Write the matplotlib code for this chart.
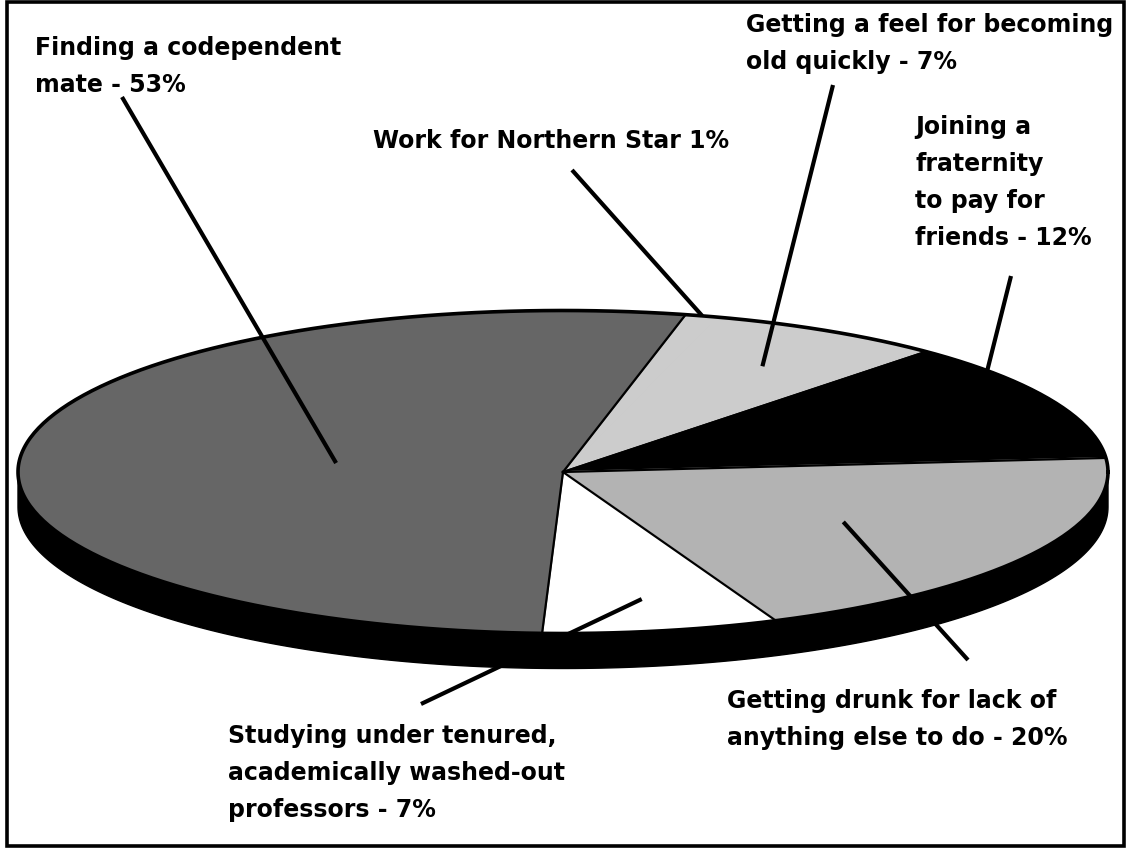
import matplotlib.pyplot as plt
import numpy as np

# slice data, listed clockwise starting at the top of the pie
labels = [
    "Work for Northern Star 1%",
    "Getting a feel for becoming\nold quickly - 7%",
    "Joining a\nfraternity\nto pay for\nfriends - 12%",
    "Getting drunk for lack of\nanything else to do - 20%",
    "Studying under tenured,\nacademically washed-out\nprofessors - 7%",
    "Finding a codependent\nmate - 53%",
]
shares = [1, 7, 12, 20, 7, 53]
colors = ['#cccccc', '#cccccc', '#000000', '#b3b3b3', '#ffffff', '#666666']

# layout (pixel coordinates of the 1129x849 canvas)
cx, cy, rx, ry, depth = 563, 472, 545, 161.5, 35
start_angle = 77
label_pos = [(373, 148), (746, 32), (915, 134), (727, 708), (228, 743), (35, 55)]
line_gap = 37
leader_out = [(572, 170), (833, 85), (1011, 276), (968, 660), (421, 704), (122, 97)]
leader_r = [1.0, 0.75, 0.85, 0.6, 0.8, 0.42]


def ell(t, r=1.0, dy=0.0):
    return cx + r * rx * np.cos(t), cy + dy - r * ry * np.sin(t)


fig = plt.figure(figsize=(11.29, 8.49), dpi=100)
ax = fig.add_axes([0, 0, 1, 1])
ax.set_xlim(0, 1129)
ax.set_ylim(849, 0)
ax.axis('off')

# black border around the whole picture
ax.add_patch(plt.Rectangle((7, 2), 1117, 844, fill=False, lw=2.6, ec='black'))

# extruded side of the pie
t_top = np.linspace(0, np.pi, 200)
t_bot = np.linspace(np.pi, 2 * np.pi, 200)
xs = np.concatenate([ell(t_top)[0], ell(t_bot, dy=depth)[0]])
ys = np.concatenate([ell(t_top)[1], ell(t_bot, dy=depth)[1]])
ax.fill(xs, ys, color='black', zorder=1)

# top face wedges
bounds = start_angle - 3.6 * np.concatenate([[0], np.cumsum(shares)])
for i, share in enumerate(shares):
    t = np.radians(np.linspace(bounds[i], bounds[i + 1], 120))
    px, py = ell(t)
    ax.fill(np.r_[cx, px], np.r_[cy, py], fc=colors[i], ec=colors[i], lw=1.4, zorder=2)

# separators where the colour changes
for i in range(len(shares)):
    if colors[i] != colors[i - 1]:
        ex, ey = ell(np.radians(bounds[i]))
        ax.plot([cx, ex], [cy, ey], color='black', lw=1.6, zorder=3)

# rim outline
tt = np.linspace(0, 2 * np.pi, 400)
ax.plot(*ell(tt), color='black', lw=2.6, zorder=3)

# labels and leader lines
for i, lab in enumerate(labels):
    mid = np.radians((bounds[i] + bounds[i + 1]) / 2)
    ix, iy = ell(mid, r=leader_r[i])
    ox, oy = leader_out[i]
    ax.plot([ix, ox], [iy, oy], color='black', lw=3, solid_capstyle='butt', zorder=4)
    x0, y0 = label_pos[i]
    for k, line in enumerate(lab.split('\n')):
        ax.text(x0, y0 + k * line_gap, line, fontsize=17, fontweight='bold',
                family='DejaVu Sans', va='baseline', ha='left', zorder=5)

fig.savefig('out.png', dpi=100)
